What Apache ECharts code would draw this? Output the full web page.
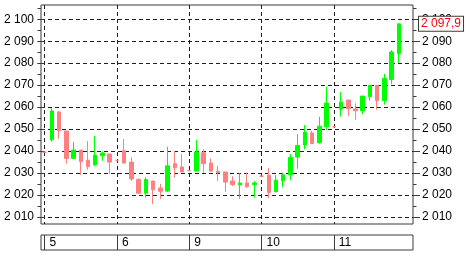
<!DOCTYPE html>
<html>
<head>
<meta charset="utf-8">
<script src="https://cdn.jsdelivr.net/npm/echarts@6/dist/echarts.min.js"></script>
<style>
html,body{margin:0;padding:0;background:#fff;}
#chart{width:468px;height:261px;}
</style>
</head>
<body>
<div id="chart"></div>
<script>
// ---- data ----
const dayLabels = ['5', '6', '9', '10', '11'];
const candlesPerDay = 10;
const openP  = [2039.4,2045.1,2057.7,2049.1,2036.6,2040.4,2035.8,2033.7,2037.8,2038.6,
                2035.7,2040.1,2034.9,2027.0,2020.7,2026.3,2023.1,2021.7,2034.2,2032.7,
                2031.0,2030.8,2039.2,2034.5,2030.7,2030.4,2026.3,2024.5,2025.4,2024.6,
                2028.5,2028.9,2021.4,2026.4,2029.1,2037.2,2042.7,2048.2,2043.7,2051.0,
                2051.0,2059.0,2063.2,2059.1,2058.3,2064.7,2069.9,2062.9,2072.5,2084.3];
const closeP = [2039.4,2058.2,2049.2,2036.6,2040.4,2035.1,2032.8,2038.1,2039.0,2034.9,
                2035.7,2034.5,2027.2,2020.7,2027.0,2022.3,2021.6,2033.2,2032.3,2030.4,
                2031.0,2039.5,2034.2,2030.8,2030.1,2025.8,2024.6,2025.4,2023.7,2025.4,
                2028.5,2021.1,2026.7,2029.1,2037.1,2042.5,2048.6,2043.3,2051.3,2061.8,
                2051.0,2062.3,2059.2,2058.3,2065.0,2069.9,2062.9,2073.1,2085.1,2097.9];
const lowP   = [2039.4,2044.2,2045.6,2034.2,2036.6,2029.1,2031.4,2033.0,2035.5,2029.5,
                2035.7,2034.2,2026.3,2020.7,2018.7,2015.8,2018.1,2021.3,2027.8,2030.4,
                2031.0,2030.8,2030.1,2030.5,2026.3,2021.4,2024.0,2018.2,2023.2,2018.7,
                2028.5,2018.4,2021.4,2023.4,2026.6,2031.9,2040.7,2043.3,2043.3,2049.5,
                2051.0,2055.6,2055.9,2054.1,2056.8,2062.9,2058.8,2061.1,2070.5,2080.1];
const highP  = [2039.4,2059.5,2058.3,2049.1,2044.1,2040.4,2044.5,2046.8,2039.8,2038.6,
                2035.7,2045.4,2037.1,2027.5,2028.0,2026.3,2025.0,2041.9,2040.0,2038.6,
                2031.0,2045.0,2040.7,2036.6,2033.2,2030.4,2028.5,2029.8,2030.1,2026.3,
                2028.5,2032.2,2029.0,2029.8,2038.6,2047.7,2051.8,2049.1,2055.6,2069.3,
                2051.0,2066.8,2063.2,2061.7,2065.0,2069.9,2069.9,2075.1,2086.0,2097.9];
const yTicks = [2010,2020,2030,2040,2050,2060,2070,2080,2090,2100];
const yMinorTicks = [2010,2015,2020,2025,2030,2035,2040,2045,2050,2055,2060,2065,2070,2075,2080,2085,2090,2095,2100,2105];
const yMin = 2006.7, yMax = 2106.5;

// ---- build ----
const candleData = openP.map((o, i) => [i, o, closeP[i], lowP[i], highP[i]]);
const dayStarts = dayLabels.map((d, k) => k * candlesPerDay);
const xMin = -0.5, xMax = 50.95;
const lastClose = closeP[closeP.length - 1];

function fmtInt(v) {
  return String(Math.round(v)).replace(/\B(?=(\d{3})+(?!\d))/g, ' ');
}
function fmtDec(v) {
  const s = v.toFixed(1).split('.');
  return s[0].replace(/\B(?=(\d{3})+(?!\d))/g, ' ') + ',' + s[1];
}

const FONT = "'Liberation Sans Narrow', 'Arial Narrow', 'Liberation Sans', Arial, sans-serif";
const AX = '#3a3a3a';
const GRIDC = '#1e1e1e';

function yMajor(pos) {
  return {
    type: 'value', gridIndex: 0, position: pos, min: yMin, max: yMax,
    axisLine: { show: false },
    axisTick: { show: true, length: 7, customValues: yTicks, lineStyle: { color: AX } },
    axisLabel: { show: true, customValues: yTicks, margin: pos === 'left' ? 7 : 9,
      color: '#000', fontSize: 12, fontFamily: FONT, formatter: fmtInt },
    splitLine: pos === 'left'
      ? { show: true, lineStyle: { color: GRIDC, type: [4, 3], width: 1 } }
      : { show: false }
  };
}
function yMinor(pos) {
  return {
    type: 'value', gridIndex: 0, position: pos, min: yMin, max: yMax,
    axisLine: { show: false },
    axisTick: { show: true, length: 3.5, customValues: yMinorTicks, lineStyle: { color: AX } },
    axisLabel: { show: false },
    splitLine: { show: false }
  };
}

const chart = echarts.init(document.getElementById('chart'), null, { renderer: 'canvas' });
chart.setOption({
  backgroundColor: '#ffffff',
  animation: false,
  grid: [
    { left: 41, right: 55, top: 5, bottom: 37, show: true, borderColor: AX, borderWidth: 1, containLabel: false },
    { left: 41, right: 55, top: 235, height: 15, show: true, borderColor: AX, borderWidth: 1, containLabel: false }
  ],
  xAxis: [
    { type: 'value', gridIndex: 0, min: xMin, max: xMax,
      axisLine: { show: false },
      axisTick: { show: false, customValues: dayStarts },
      axisLabel: { show: false },
      splitLine: { show: true, lineStyle: { color: GRIDC, type: [4, 3], width: 1 } } },
    { type: 'value', gridIndex: 1, min: xMin, max: xMax, position: 'bottom',
      axisLine: { show: false },
      axisTick: { show: false, customValues: dayStarts },
      axisLabel: { show: true, inside: true, customValues: dayStarts, margin: 7.5,
        align: 'left', verticalAlign: 'middle', padding: [0, 0, 0, 5],
        color: '#000', fontSize: 12, fontFamily: FONT,
        formatter: v => dayLabels[Math.round(v / candlesPerDay)] },
      splitLine: { show: true, lineStyle: { color: AX, type: 'solid', width: 1 } } }
  ],
  yAxis: [
    yMajor('left'), yMajor('right'), yMinor('left'), yMinor('right'),
    { type: 'value', gridIndex: 1, show: false, min: 0, max: 1, splitLine: { show: false } }
  ],
  series: [{
    type: 'candlestick',
    xAxisIndex: 0, yAxisIndex: 0,
    barWidth: 4,
    data: candleData,
    itemStyle: {
      color: '#00ff00', color0: '#ff8080',
      borderColor: '#00ff00', borderColor0: '#ff8080', borderColorDoji: '#ff8080',
      borderWidth: 1
    },
    markLine: {
      silent: true, symbol: ['none', 'none'], animation: false,
      lineStyle: { color: 'rgba(0,0,0,0)', width: 1, type: 'solid' },
      emphasis: { disabled: true },
      label: {
        show: true, position: 'end', distance: 6,
        formatter: () => fmtDec(lastClose),
        color: '#ff0000', fontSize: 12, fontFamily: FONT,
        backgroundColor: '#ffffff', borderColor: AX, borderWidth: 1,
        padding: [1, 2, 1, 2]
      },
      data: [{ yAxis: lastClose }]
    }
  }]
});
</script>
</body>
</html>
